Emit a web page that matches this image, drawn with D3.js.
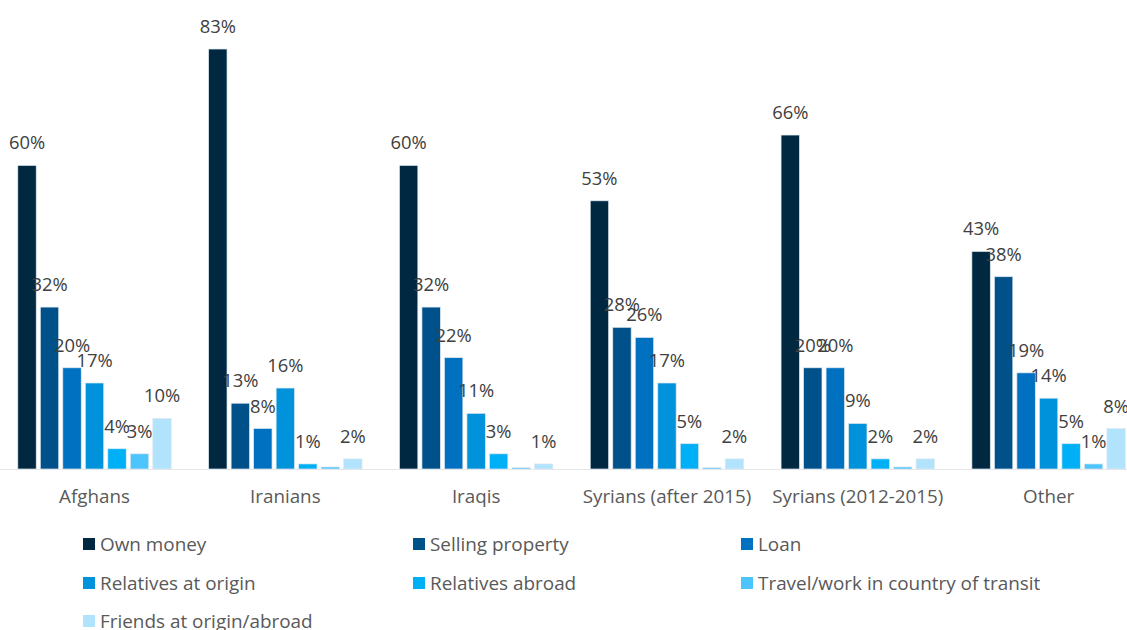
<!DOCTYPE html>
<html>
<head>
<meta charset="utf-8">
<script src="https://cdn.jsdelivr.net/npm/d3@7"></script>
<style>
  html, body { margin: 0; padding: 0; background: #fff; }
  svg { display: block; font-family: "Open Sans", sans-serif; }
</style>
</head>
<body>
<svg id="chart" width="1127" height="630"></svg>
<script>
// Groups of people surveyed
const groups = ["Afghans", "Iranians", "Iraqis", "Syrians (after 2015)", "Syrians (2012-2015)", "Other"];

// Funding sources (one series each)
const seriesNames = [
  "Own money",
  "Selling property",
  "Loan",
  "Relatives at origin",
  "Relatives abroad",
  "Travel/work in country of transit",
  "Friends at origin/abroad"
];

// Share (%) of each group using each source, per series
const ownMoney        = [60, 83, 60, 53, 66, 43];
const sellingProperty = [32, 13, 32, 28, 20, 38];
const loan            = [20, 8, 22, 26, 20, 19];
const relativesOrigin = [17, 16, 11, 17, 9, 14];
const relativesAbroad = [4, 1, 3, 5, 2, 5];
const travelWork      = [3, 0.4, 0.25, 0.25, 0.4, 1];
const friends         = [10, 2, 1, 2, 2, 8];

const seriesValues = [ownMoney, sellingProperty, loan, relativesOrigin, relativesAbroad, travelWork, friends];

const colors = ["#012841", "#00518a", "#0070c0", "#0093db", "#00b0f6", "#4cc4fc", "#b2e3fc"];

const svg = d3.select("#chart");

// Scales
const x0 = d3.scaleBand().domain(groups).range([-0.9, 1144]).padding(0);
const x1 = d3.scaleBand().domain(seriesNames).range([0, x0.bandwidth()])
  .paddingInner(0.182).paddingOuter(0.831);
const y = d3.scaleLinear().domain([0, 90]).range([469, 469 - 90 * 5.06]);

// Flattened records for drawing
const records = [];
groups.forEach((g, gi) => {
  seriesNames.forEach((s, si) => {
    records.push({ group: g, series: s, si, value: seriesValues[si][gi] });
  });
});

// Baseline
svg.append("line")
  .attr("x1", 0).attr("x2", 1127)
  .attr("y1", y(0) + 0.5).attr("y2", y(0) + 0.5)
  .attr("stroke", "#e6e6e6").attr("stroke-width", 1);

// Bars
svg.append("g").selectAll("rect")
  .data(records)
  .join("rect")
  .attr("x", d => x0(d.group) + x1(d.series))
  .attr("y", d => y(d.value))
  .attr("width", x1.bandwidth())
  .attr("height", d => y(0) - y(d.value))
  .attr("fill", d => colors[d.si])
  .attr("stroke", "#dfe8f1")
  .attr("stroke-width", 0.7);

// Value labels (bars rounding to 0% carry no label)
const fmt = d => d3.format(".0f")(d) + "%";
svg.append("g").selectAll("text")
  .data(records.filter(d => d.value >= 0.5))
  .join("text")
  .attr("x", d => x0(d.group) + x1(d.series) + x1.bandwidth() / 2)
  .attr("y", d => y(d.value) - 16)
  .attr("text-anchor", "middle")
  .attr("font-size", 18.4)
  .attr("fill", "#404040")
  .text(d => fmt(d.value));

// Category axis labels
const xAxis = d3.axisBottom(x0).tickSize(0).tickPadding(0);
const axisG = svg.append("g").attr("transform", `translate(0, ${y(0)})`).call(xAxis);
axisG.select(".domain").remove();
axisG.selectAll("text")
  .attr("y", 34)
  .attr("dy", 0)
  .attr("font-size", 18.8)
  .attr("font-family", "Open Sans, sans-serif")
  .attr("fill", "#595959");

// Legend: three columns
const legendCols = [83, 413, 741];
const legendRows = [544, 583, 621];
const legend = svg.append("g").selectAll("g")
  .data(seriesNames)
  .join("g")
  .attr("transform", (d, i) => `translate(${legendCols[i % 3]}, ${legendRows[Math.floor(i / 3)]})`);

legend.append("rect")
  .attr("x", 0).attr("y", -6)
  .attr("width", 12).attr("height", 12)
  .attr("fill", (d, i) => colors[i]);

legend.append("text")
  .attr("x", 17).attr("y", 0)
  .attr("dy", "0.35em")
  .attr("font-size", 18.9)
  .attr("fill", "#595959")
  .text(d => d);
</script>
</body>
</html>
